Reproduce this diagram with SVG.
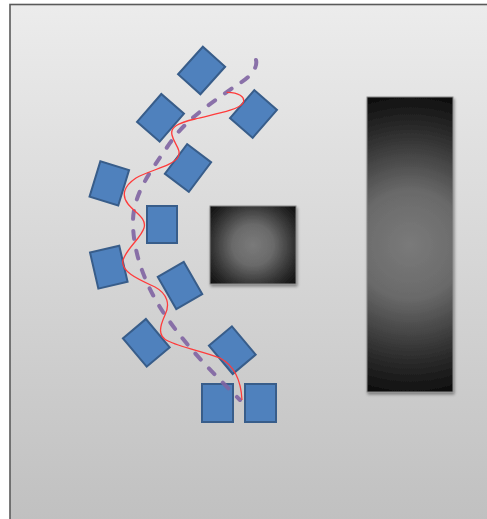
<svg xmlns="http://www.w3.org/2000/svg" width="487" height="519" viewBox="0 0 487 519">
<defs>
<linearGradient id="bg" x1="0" y1="0" x2="0" y2="1">
<stop offset="0" stop-color="#ececec"/>
<stop offset="1" stop-color="#bfbfbf"/>
</linearGradient>
<radialGradient id="darkTall" gradientUnits="userSpaceOnUse" cx="410" cy="244.5" r="153">
<stop offset="0" stop-color="#7a7a7a"/>
<stop offset="0.35" stop-color="#6a6a6a"/>
<stop offset="0.7" stop-color="#333333"/>
<stop offset="1" stop-color="#0c0c0c"/>
</radialGradient>
<radialGradient id="darkSq" gradientUnits="userSpaceOnUse" cx="253" cy="245" r="58">
<stop offset="0" stop-color="#7a7a7a"/>
<stop offset="0.35" stop-color="#6a6a6a"/>
<stop offset="0.7" stop-color="#333333"/>
<stop offset="1" stop-color="#0c0c0c"/>
</radialGradient>
<filter id="sh" x="-10%" y="-10%" width="130%" height="130%">
<feGaussianBlur in="SourceAlpha" stdDeviation="1.5"/>
<feOffset dx="1" dy="2" result="b"/>
<feComponentTransfer><feFuncA type="linear" slope="0.4"/></feComponentTransfer>
<feMerge><feMergeNode/><feMergeNode in="SourceGraphic"/></feMerge>
</filter>
<style>
.blk{fill:#4f81bd;stroke:#385d8a;stroke-width:2}
.obs{stroke:#8a8a8a;stroke-width:1}
.red{fill:none;stroke:#ff3b3b;stroke-width:1.3}
.pur{fill:none;stroke:#8064a2;stroke-width:4;stroke-dasharray:8 12;stroke-linecap:round;opacity:0.9}
</style>
</defs>
<rect x="0" y="0" width="487" height="519" fill="#ffffff"/>
<rect id="frame" x="10" y="4.5" width="490" height="530" fill="url(#bg)" stroke="#5a5a5a" stroke-width="1.6"/>
<g id="obstacle-tall"><rect class="obs" x="367" y="97" width="86" height="295" fill="url(#darkTall)" filter="url(#sh)"/></g>
<g id="obstacle-square"><rect class="obs" x="210" y="206" width="86" height="78" fill="url(#darkSq)" filter="url(#sh)"/></g>
<g id="b1"><rect class="blk" x="-15" y="-18.5" width="30" height="37" transform="translate(201.6,70.5) rotate(42)"/></g>
<g id="b2"><rect class="blk" x="-15" y="-18.5" width="30" height="37" transform="translate(160.5,117.8) rotate(41)"/></g>
<g id="b3"><rect class="blk" x="-15" y="-18.5" width="30" height="37" transform="translate(253.5,114) rotate(41)"/></g>
<g id="b4"><rect class="blk" x="-15" y="-18.5" width="30" height="37" transform="translate(188,168) rotate(37)"/></g>
<g id="b5"><rect class="blk" x="-15" y="-18.5" width="30" height="37" transform="translate(109.3,183.4) rotate(17)"/></g>
<g id="b6"><rect class="blk" x="147" y="206" width="30" height="37"/></g>
<g id="b7"><rect class="blk" x="-15" y="-18.5" width="30" height="37" transform="translate(108.8,267.2) rotate(-13)"/></g>
<g id="b8"><rect class="blk" x="-15" y="-18.5" width="30" height="37" transform="translate(180,285.5) rotate(-30)"/></g>
<g id="b9"><rect class="blk" x="-15" y="-18.5" width="30" height="37" transform="translate(146.3,342.8) rotate(-40)"/></g>
<g id="b10"><rect class="blk" x="-15" y="-18.5" width="30" height="37" transform="translate(232.3,350.2) rotate(-40)"/></g>
<g id="b11"><rect class="blk" x="202" y="384" width="31" height="38"/></g>
<g id="b12"><rect class="blk" x="245" y="384" width="31" height="38"/></g>
<g id="connectors">
<path class="pur" d="M256,60 C258,68 250,77 240,83 C215,100 185,120 170,143 C150,172 132,195 133,225 C134,260 150,295 170,322 C190,350 215,375 240,400"/>
<path class="red" d="M226.7,92.3 C238,92 246,97 243,103 C239,110 215,114 195,119 C178,123 170,127 172,135 C174,144 182,150 178,157 C173,166 150,170 136,178 C124,186 121,195 128,204 C135,213 147,218 144,228 C141,238 127,248 123,260 C120,272 140,280 155,287 C168,294 170,305 165,315 C160,326 157,336 168,341 C180,347 205,352 220,358 C235,366 241,380 242,400"/>
</g>
</svg>
